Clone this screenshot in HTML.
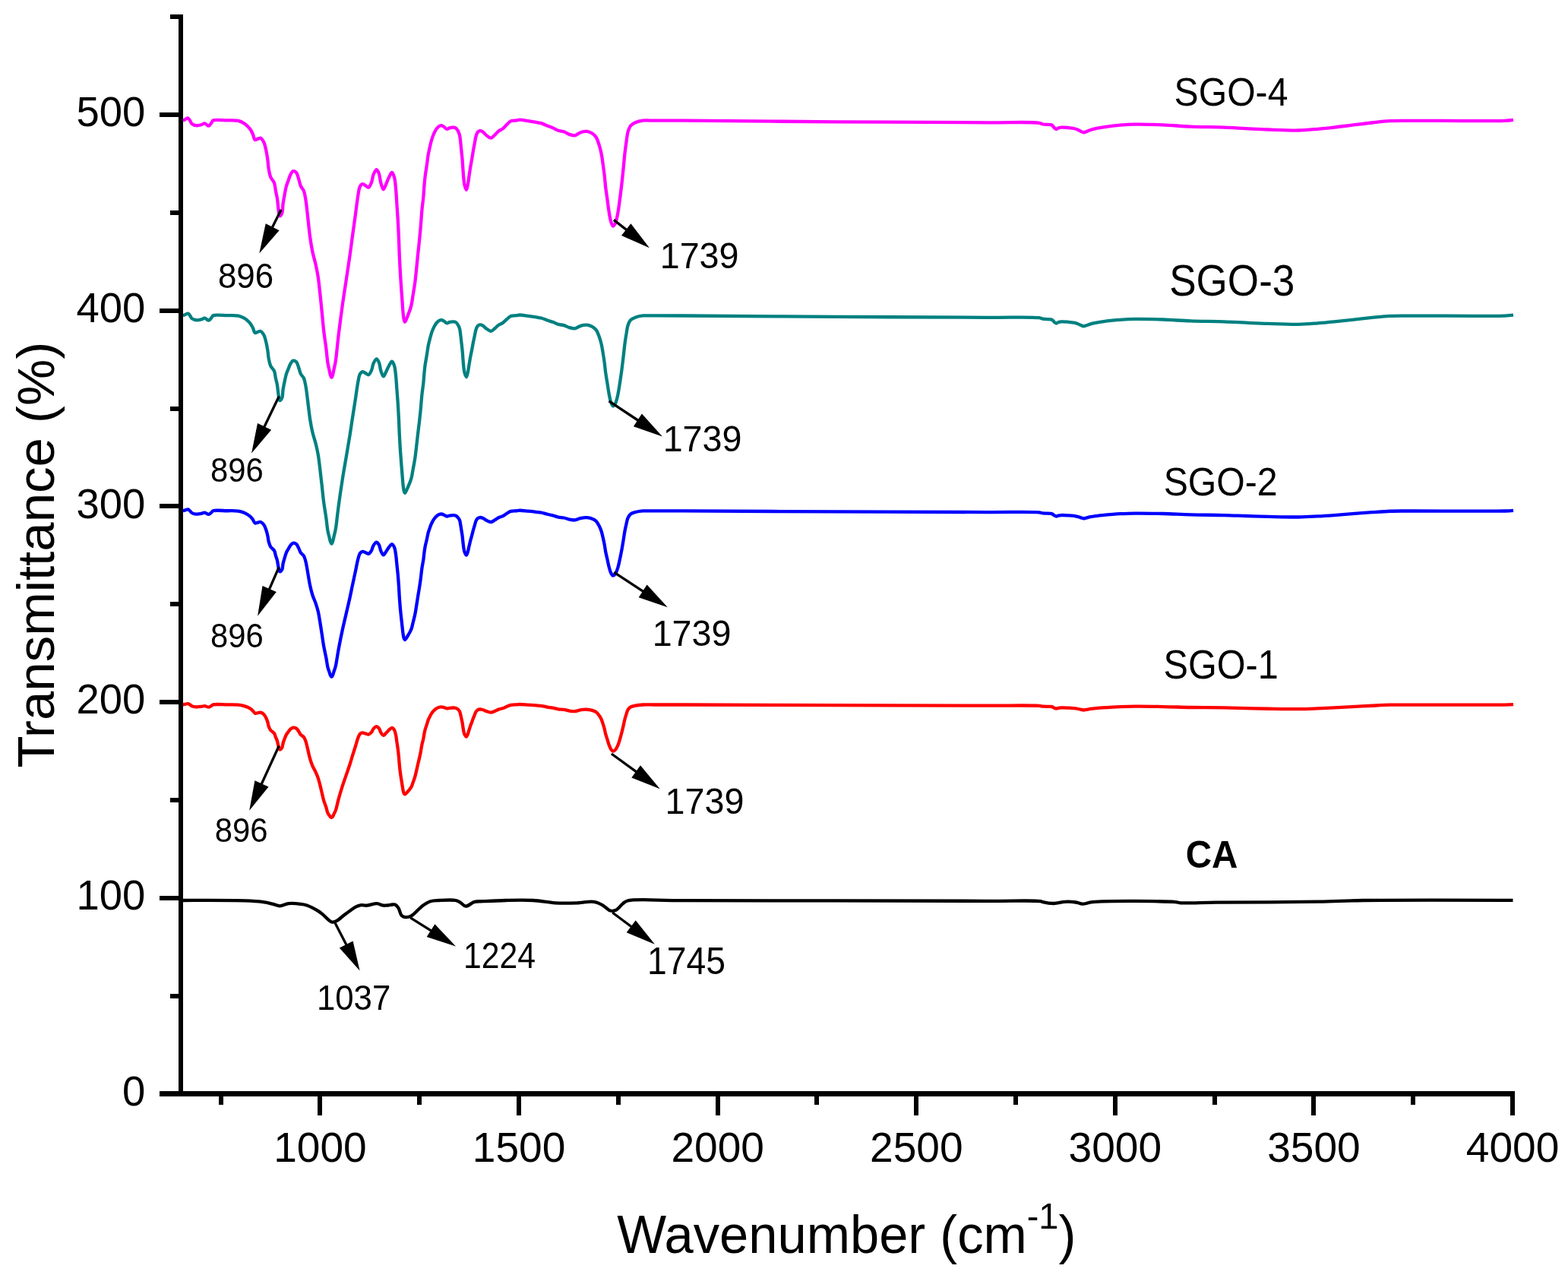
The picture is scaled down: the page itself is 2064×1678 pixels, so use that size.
<!DOCTYPE html><html><head><meta charset="utf-8"><title>FTIR spectra</title><style>html,body{margin:0;padding:0;background:#fff;overflow:hidden}svg{display:block}</style></head><body><svg width="2064" height="1678" viewBox="0 0 2064 1678"><rect x="0" y="0" width="2064" height="1678" fill="#fff"/><path d="M240.40,1185.00 C240.40,1185.00 304.49,1184.71 323.20,1185.40 C332.81,1185.75 338.50,1186.03 345.00,1186.90 C350.35,1187.62 355.28,1188.78 359.50,1189.80 C362.82,1190.60 365.16,1192.29 368.30,1192.30 C371.90,1192.31 375.68,1189.58 379.90,1189.10 C384.77,1188.55 391.62,1189.27 395.90,1189.80 C398.82,1190.16 400.37,1190.33 403.20,1191.30 C407.56,1192.80 415.17,1196.78 419.10,1199.20 C421.63,1200.76 422.74,1201.79 425.00,1203.60 C428.26,1206.20 433.20,1212.63 436.60,1213.50 C438.72,1214.04 440.26,1213.27 442.40,1212.30 C445.75,1210.79 449.88,1206.58 454.00,1203.60 C458.56,1200.30 464.73,1195.41 468.60,1193.40 C470.88,1192.22 472.23,1191.63 474.40,1191.30 C476.97,1190.91 479.92,1191.94 483.10,1191.70 C487.04,1191.40 492.30,1188.92 496.20,1189.10 C499.42,1189.25 501.76,1191.41 504.90,1191.70 C508.46,1192.03 513.76,1190.64 516.50,1190.50 C518.00,1190.42 518.86,1190.03 520.00,1190.50 C521.52,1191.13 523.10,1192.97 524.40,1194.90 C526.13,1197.47 526.70,1203.11 528.70,1205.10 C530.12,1206.50 531.89,1207.07 533.80,1207.20 C536.14,1207.36 538.94,1206.64 541.80,1205.10 C546.19,1202.73 551.72,1195.31 556.30,1192.00 C559.85,1189.43 562.86,1187.37 566.50,1186.20 C570.13,1185.04 573.62,1185.23 578.10,1185.00 C584.22,1184.68 595.00,1183.97 599.90,1185.00 C602.57,1185.56 603.79,1186.46 605.80,1187.60 C608.15,1188.93 610.24,1192.48 613.00,1192.70 C616.36,1192.96 620.70,1187.97 624.70,1186.90 C628.48,1185.89 631.56,1186.44 636.30,1186.20 C643.79,1185.82 655.08,1185.21 665.30,1185.00 C676.74,1184.76 690.26,1184.35 701.70,1185.00 C711.96,1185.58 721.09,1187.75 730.80,1188.30 C740.46,1188.85 750.83,1188.59 759.80,1188.30 C767.59,1188.05 775.54,1186.00 781.60,1186.90 C786.19,1187.58 789.66,1189.36 793.30,1191.30 C796.93,1193.23 800.15,1197.63 803.40,1198.50 C805.90,1199.17 808.30,1198.88 810.70,1197.80 C813.86,1196.37 817.13,1191.26 820.00,1189.10 C822.13,1187.50 822.69,1186.43 826.00,1185.50 C836.78,1182.49 865.50,1185.24 900.00,1185.20 C980.20,1185.10 1221.43,1185.57 1300.00,1185.80 C1332.82,1185.90 1361.96,1184.77 1369.80,1186.10 C1371.44,1186.38 1371.34,1186.78 1372.70,1187.10 C1375.67,1187.80 1382.37,1189.05 1387.20,1189.00 C1392.04,1188.95 1396.85,1187.05 1401.70,1186.80 C1406.55,1186.55 1412.09,1186.87 1416.30,1187.50 C1419.60,1187.99 1421.79,1189.62 1425.00,1189.70 C1428.91,1189.80 1431.57,1187.74 1438.10,1187.10 C1456.76,1185.27 1532.18,1185.88 1547.10,1187.10 C1550.99,1187.42 1550.91,1188.04 1554.40,1188.30 C1563.07,1188.95 1580.76,1187.90 1600.00,1187.70 C1633.20,1187.36 1699.92,1187.36 1735.70,1186.70 C1759.12,1186.27 1768.68,1185.38 1793.80,1185.00 C1840.13,1184.30 1991.50,1184.80 1991.50,1184.80" fill="none" stroke="#000000" stroke-width="4.3" stroke-linejoin="round" stroke-linecap="butt"/><path d="M240.80,927.36 C240.80,927.36 242.36,927.09 243.30,926.91 C244.54,926.68 246.34,925.85 247.60,926.06 C248.70,926.26 249.64,927.22 250.50,927.80 C251.24,928.30 251.60,928.92 252.50,929.31 C253.88,929.92 256.29,930.26 258.30,930.38 C260.45,930.51 263.01,930.19 265.00,929.94 C266.63,929.73 267.87,929.03 269.40,929.09 C271.12,929.16 273.19,930.77 274.80,930.60 C276.21,930.46 277.55,929.26 278.60,928.65 C279.39,928.19 279.53,927.67 280.60,927.36 C283.59,926.48 293.23,927.31 299.00,927.36 C304.12,927.39 309.43,927.15 313.50,927.58 C316.52,927.89 319.05,928.46 321.30,929.09 C323.09,929.59 324.52,930.16 326.00,930.83 C327.41,931.46 328.82,932.14 330.00,932.96 C331.10,933.73 331.96,934.60 332.90,935.54 C333.90,936.54 334.63,938.38 335.80,938.79 C336.92,939.18 338.44,938.31 339.70,938.12 C340.87,937.96 341.94,937.48 343.10,937.72 C344.50,938.02 346.22,939.13 347.40,940.30 C348.64,941.53 349.48,943.37 350.30,945.02 C351.12,946.68 351.74,948.45 352.30,950.25 C352.88,952.11 353.04,954.19 353.70,956.01 C354.35,957.78 355.04,959.55 356.20,961.04 C357.43,962.63 359.88,963.56 361.00,965.18 C362.05,966.69 362.24,968.64 362.90,970.32 C363.54,971.96 364.35,973.40 364.90,975.13 C365.51,977.02 365.71,979.29 366.30,981.24 C366.86,983.08 367.35,986.26 368.30,986.51 C369.08,986.71 370.50,985.23 371.20,984.09 C372.10,982.61 372.03,979.96 372.60,977.98 C373.16,976.03 373.87,974.17 374.60,972.29 C375.34,970.39 376.11,968.23 377.00,966.62 C377.74,965.29 378.54,964.34 379.40,963.21 C380.30,962.03 381.21,960.65 382.30,959.70 C383.32,958.82 384.45,957.85 385.70,957.65 C387.03,957.44 388.89,957.90 390.10,958.66 C391.33,959.44 392.07,961.00 393.00,962.32 C394.01,963.76 394.71,965.70 395.90,967.01 C397.03,968.27 398.84,968.75 399.90,970.08 C401.06,971.53 401.65,973.43 402.40,975.52 C403.34,978.15 403.96,981.33 404.80,984.72 C405.83,988.88 406.88,994.49 408.10,998.65 C409.12,1002.13 410.13,1005.10 411.40,1008.08 C412.61,1010.91 414.26,1013.47 415.50,1016.15 C416.69,1018.74 417.77,1021.17 418.70,1023.88 C419.68,1026.74 420.39,1029.77 421.20,1032.89 C422.06,1036.21 422.88,1039.80 423.70,1043.23 C424.51,1046.62 425.14,1050.06 426.10,1053.36 C427.04,1056.61 428.47,1059.93 429.40,1062.87 C430.19,1065.37 430.57,1068.06 431.40,1069.88 C431.99,1071.16 432.75,1072.00 433.40,1072.95 C433.98,1073.79 434.51,1074.79 435.10,1075.29 C435.52,1075.65 435.97,1075.97 436.40,1075.93 C436.87,1075.88 437.37,1075.36 437.80,1074.84 C438.41,1074.09 438.84,1072.74 439.40,1071.60 C440.03,1070.33 440.86,1068.83 441.40,1067.54 C441.86,1066.44 442.18,1065.44 442.50,1064.37 C442.82,1063.31 442.96,1062.52 443.30,1061.15 C443.90,1058.73 444.78,1054.85 445.80,1051.11 C447.12,1046.29 449.01,1039.96 450.70,1034.69 C452.29,1029.74 453.97,1025.13 455.60,1020.36 C457.23,1015.58 459.06,1010.48 460.50,1006.03 C461.74,1002.18 462.63,998.98 463.80,995.22 C465.08,991.08 466.62,986.37 467.90,982.23 C469.07,978.46 470.03,974.34 471.20,971.38 C472.06,969.21 472.70,967.06 473.90,965.92 C474.82,965.04 475.99,964.58 477.20,964.48 C478.59,964.38 480.40,965.30 481.80,965.68 C482.99,966.00 484.00,966.80 485.10,966.60 C486.41,966.36 487.93,964.92 489.00,963.70 C490.12,962.43 490.47,960.36 491.60,959.08 C492.69,957.85 494.34,956.15 495.60,956.15 C496.72,956.14 497.89,957.36 498.80,958.46 C499.96,959.87 500.41,962.70 501.50,964.34 C502.43,965.73 503.60,967.75 504.70,967.81 C505.76,967.86 506.88,965.99 508.00,964.91 C509.27,963.69 510.54,962.02 511.90,960.82 C513.18,959.70 514.67,957.82 515.90,957.88 C517.05,957.95 518.27,959.48 519.10,960.82 C520.17,962.55 520.56,965.33 521.10,967.81 C521.69,970.54 521.97,973.65 522.40,976.57 C522.83,979.48 523.29,982.17 523.70,985.29 C524.17,988.90 524.65,993.34 525.00,996.95 C525.30,1000.08 525.40,1002.59 525.70,1005.72 C526.05,1009.33 526.53,1013.77 527.00,1017.38 C527.41,1020.51 527.87,1023.35 528.30,1026.15 C528.70,1028.71 529.11,1031.13 529.50,1033.53 C529.87,1035.81 530.17,1038.31 530.60,1040.21 C530.93,1041.66 531.21,1043.06 531.70,1043.99 C532.04,1044.64 532.46,1045.40 532.90,1045.46 C533.33,1045.51 533.77,1044.91 534.30,1044.43 C535.16,1043.66 536.41,1042.17 537.40,1041.01 C538.37,1039.87 539.43,1038.64 540.20,1037.54 C540.85,1036.61 541.30,1035.91 541.80,1034.87 C542.43,1033.54 542.87,1031.93 543.50,1030.15 C544.32,1027.84 545.51,1024.86 546.30,1022.18 C547.07,1019.56 547.58,1016.91 548.20,1014.26 C548.82,1011.61 549.38,1008.95 550.00,1006.30 C550.62,1003.64 551.30,1000.99 551.90,998.33 C552.50,995.68 553.04,993.24 553.60,990.37 C554.25,987.02 554.81,982.70 555.50,979.46 C556.06,976.84 556.80,974.77 557.30,972.39 C557.80,970.02 558.07,967.43 558.50,965.23 C558.88,963.31 559.20,961.65 559.70,959.88 C560.20,958.10 560.97,956.23 561.50,954.59 C561.95,953.18 562.30,951.90 562.70,950.63 C563.07,949.43 563.34,948.32 563.80,947.16 C564.29,945.93 564.99,944.67 565.60,943.46 C566.19,942.29 566.77,941.05 567.40,939.99 C567.97,939.04 568.53,938.23 569.20,937.37 C569.92,936.46 570.72,935.53 571.60,934.70 C572.51,933.84 573.51,932.95 574.60,932.29 C575.70,931.63 577.04,931.06 578.20,930.74 C579.20,930.46 580.13,930.30 581.10,930.34 C582.10,930.38 583.02,930.70 584.10,931.00 C585.39,931.37 586.94,932.33 588.30,932.43 C589.53,932.52 590.61,931.92 591.90,931.76 C593.36,931.59 595.21,931.47 596.60,931.49 C597.71,931.51 598.63,931.47 599.60,931.76 C600.63,932.08 601.71,932.69 602.60,933.41 C603.52,934.15 604.41,935.08 605.00,936.17 C605.64,937.33 605.82,938.77 606.20,940.24 C606.63,941.92 607.00,943.87 607.40,945.70 C607.80,947.54 608.27,949.40 608.60,951.25 C608.93,953.08 609.12,954.92 609.40,956.76 C609.68,958.61 609.92,960.59 610.30,962.30 C610.64,963.83 610.87,965.33 611.50,966.58 C612.09,967.75 613.19,969.70 613.90,969.64 C614.59,969.59 615.16,967.67 615.70,966.41 C616.39,964.81 616.90,962.60 617.50,960.71 C618.10,958.83 618.67,956.91 619.30,955.11 C619.90,953.40 620.60,951.81 621.20,950.16 C621.79,948.54 622.29,946.91 622.90,945.33 C623.50,943.77 624.17,942.25 624.80,940.76 C625.40,939.33 625.85,937.70 626.60,936.57 C627.23,935.63 627.94,934.81 628.80,934.30 C629.64,933.80 630.67,933.57 631.70,933.50 C632.83,933.42 634.06,933.64 635.30,933.99 C636.72,934.38 638.06,935.33 639.70,935.90 C641.66,936.58 644.26,937.76 646.30,937.68 C648.09,937.61 649.64,936.56 651.30,935.90 C653.00,935.22 654.67,934.23 656.40,933.63 C658.08,933.05 659.77,932.94 661.50,932.34 C663.40,931.68 665.42,930.54 667.30,929.76 C669.04,929.04 670.47,928.21 672.40,927.80 C674.73,927.30 678.26,927.52 680.40,927.36 C681.84,927.24 682.47,927.03 684.00,927.00 C686.65,926.95 691.27,927.42 694.90,927.67 C698.53,927.91 702.53,928.20 705.80,928.47 C708.48,928.69 710.68,928.79 713.10,929.13 C715.54,929.48 717.97,930.12 720.40,930.55 C722.80,930.97 725.20,931.24 727.60,931.69 C730.03,932.15 732.45,932.91 734.90,933.28 C737.32,933.65 739.78,933.57 742.20,933.93 C744.64,934.31 747.06,935.15 749.50,935.51 C751.90,935.87 754.72,936.25 756.70,936.12 C758.11,936.02 759.02,935.61 760.30,935.32 C761.76,934.99 763.24,934.48 765.00,934.22 C767.18,933.90 769.97,933.62 772.40,933.74 C774.80,933.85 777.36,934.26 779.50,934.88 C781.38,935.43 783.11,936.00 784.60,937.08 C786.16,938.20 787.42,939.94 788.60,941.57 C789.79,943.21 790.85,945.04 791.70,946.89 C792.55,948.75 793.05,950.69 793.70,952.70 C794.39,954.84 795.11,957.15 795.70,959.39 C796.28,961.61 796.60,963.86 797.20,966.08 C797.80,968.32 798.57,970.43 799.30,972.76 C800.10,975.31 800.88,978.40 801.80,980.77 C802.57,982.77 803.31,984.76 804.30,986.14 C805.07,987.21 805.95,988.47 806.90,988.60 C807.82,988.73 809.00,987.88 809.90,987.02 C811.11,985.86 812.07,983.75 813.00,981.70 C814.15,979.15 815.08,975.75 816.00,972.76 C816.91,969.80 817.73,966.81 818.50,963.83 C819.26,960.87 819.92,957.91 820.60,954.94 C821.28,951.97 821.88,948.76 822.60,946.01 C823.23,943.61 823.90,941.42 824.60,939.32 C825.24,937.43 825.62,935.47 826.60,933.96 C827.52,932.53 828.71,931.27 830.20,930.39 C831.87,929.41 833.99,929.09 836.30,928.63 C839.22,928.05 842.68,927.70 846.40,927.49 C850.94,927.23 855.38,927.49 861.60,927.49 C871.49,927.49 882.20,927.46 900.00,927.49 C940.62,927.56 1033.33,928.01 1100.00,928.20 C1166.67,928.39 1250.94,928.51 1300.00,928.65 C1328.57,928.72 1358.24,928.12 1367.80,928.87 C1370.39,929.07 1370.75,929.45 1372.70,929.62 C1375.55,929.89 1381.17,929.67 1383.30,929.94 C1384.24,930.05 1384.59,930.12 1385.30,930.38 C1386.20,930.71 1387.26,931.53 1388.20,931.89 C1389.02,932.21 1389.80,932.52 1390.60,932.52 C1391.40,932.52 1392.10,932.06 1393.00,931.89 C1394.14,931.68 1395.31,931.52 1396.90,931.45 C1399.41,931.34 1403.65,931.55 1406.60,931.67 C1409.07,931.77 1411.33,931.87 1413.40,932.07 C1415.14,932.24 1416.69,932.46 1418.20,932.74 C1419.57,932.99 1420.76,933.35 1422.10,933.63 C1423.52,933.93 1425.14,934.46 1426.50,934.48 C1427.68,934.49 1428.54,934.15 1429.80,933.94 C1431.48,933.67 1433.83,933.24 1435.70,932.96 C1437.38,932.71 1438.58,932.54 1440.50,932.34 C1443.36,932.04 1447.42,931.72 1451.20,931.45 C1455.44,931.14 1460.57,930.83 1464.70,930.60 C1468.20,930.41 1470.61,930.29 1474.40,930.16 C1479.76,929.97 1486.29,929.77 1493.80,929.71 C1504.18,929.64 1518.60,929.81 1530.90,930.03 C1543.07,930.24 1554.55,930.77 1567.20,931.00 C1581.07,931.26 1597.73,931.23 1610.80,931.45 C1621.48,931.63 1630.20,931.90 1639.90,932.12 C1649.60,932.33 1658.49,932.57 1669.00,932.74 C1681.43,932.94 1697.82,933.30 1709.70,933.18 C1718.96,933.09 1726.42,932.73 1734.40,932.43 C1741.89,932.15 1748.77,931.82 1756.20,931.45 C1763.96,931.06 1771.85,930.60 1780.00,930.16 C1788.60,929.69 1797.95,929.15 1806.50,928.74 C1814.52,928.34 1822.04,927.91 1829.80,927.71 C1837.54,927.51 1842.15,927.58 1853.00,927.53 C1878.48,927.44 1961.66,927.92 1981.00,927.53 C1986.67,927.42 1992.00,927.09 1992.00,927.09" fill="none" stroke="#ff0000" stroke-width="4.3" stroke-linejoin="round" stroke-linecap="butt"/><path d="M240.80,672.24 C240.80,672.24 242.36,671.85 243.30,671.60 C244.54,671.27 246.37,670.12 247.60,670.39 C248.74,670.65 249.64,672.05 250.50,672.87 C251.25,673.59 251.55,674.46 252.50,675.03 C253.86,675.84 256.28,676.39 258.30,676.55 C260.44,676.73 263.01,676.28 265.00,675.92 C266.63,675.62 267.87,674.63 269.40,674.71 C271.12,674.81 273.21,677.08 274.80,676.87 C276.23,676.69 277.55,674.94 278.60,674.08 C279.39,673.42 279.46,672.68 280.60,672.24 C283.56,671.08 293.23,672.17 299.00,672.24 C304.12,672.29 309.44,671.96 313.50,672.55 C316.53,673.00 319.07,673.83 321.30,674.71 C323.11,675.43 324.53,676.25 326.00,677.19 C327.43,678.10 328.84,679.09 330.00,680.24 C331.12,681.34 331.97,682.60 332.90,683.92 C333.91,685.35 334.54,688.04 335.80,688.56 C336.88,689.00 338.44,687.86 339.70,687.60 C340.87,687.36 341.97,686.72 343.10,687.03 C344.54,687.43 346.24,689.14 347.40,690.71 C348.72,692.51 349.49,695.12 350.30,697.45 C351.13,699.83 351.74,702.34 352.30,704.88 C352.88,707.48 353.02,710.35 353.70,712.88 C354.34,715.25 354.96,717.65 356.20,719.61 C357.41,721.53 359.88,722.62 361.00,724.56 C362.12,726.51 362.24,729.10 362.90,731.29 C363.54,733.40 364.35,735.24 364.90,737.45 C365.51,739.92 365.71,742.91 366.30,745.45 C366.86,747.83 367.26,751.94 368.30,752.25 C369.06,752.47 370.50,751.00 371.20,749.77 C372.23,747.97 372.02,744.37 372.60,741.77 C373.16,739.25 373.87,736.85 374.60,734.40 C375.34,731.94 376.09,729.13 377.00,727.04 C377.73,725.37 378.55,724.20 379.40,722.72 C380.31,721.13 381.17,719.17 382.30,717.80 C383.31,716.58 384.40,715.08 385.70,714.79 C387.00,714.50 388.92,715.14 390.10,716.06 C391.43,717.10 392.08,719.27 393.00,721.07 C394.02,723.06 394.66,725.69 395.90,727.50 C397.01,729.13 398.85,729.88 399.90,731.59 C401.12,733.59 401.66,736.17 402.40,738.99 C403.35,742.60 403.96,746.95 404.80,751.58 C405.83,757.26 406.87,764.89 408.10,770.56 C409.11,775.23 410.11,779.22 411.40,783.22 C412.60,786.97 414.28,790.31 415.50,793.89 C416.71,797.42 417.79,800.74 418.70,804.55 C419.73,808.82 420.39,813.58 421.20,818.35 C422.06,823.46 422.88,828.98 423.70,834.29 C424.52,839.59 425.16,844.89 426.10,850.19 C427.05,855.54 428.47,861.29 429.40,866.23 C430.19,870.43 430.60,874.69 431.40,877.96 C431.99,880.37 432.75,882.20 433.40,884.15 C433.98,885.90 434.47,887.91 435.10,889.10 C435.51,889.87 435.95,890.82 436.40,890.83 C436.85,890.83 437.38,889.87 437.80,889.10 C438.44,887.92 438.84,885.92 439.40,884.19 C440.03,882.26 440.86,879.98 441.40,878.05 C441.87,876.38 442.18,874.90 442.50,873.30 C442.82,871.71 442.96,870.54 443.30,868.50 C443.90,864.90 444.77,859.16 445.80,853.58 C447.12,846.44 449.01,837.04 450.70,829.20 C452.28,821.87 453.96,815.03 455.60,807.95 C457.23,800.89 459.06,793.36 460.50,786.80 C461.74,781.14 462.63,776.45 463.80,770.92 C465.08,764.87 466.62,757.95 467.90,751.90 C469.07,746.38 470.01,740.42 471.20,736.06 C472.06,732.92 472.58,729.77 473.90,728.07 C474.80,726.91 475.97,726.07 477.20,725.92 C478.57,725.76 480.40,727.03 481.80,727.55 C482.99,727.98 484.04,729.05 485.10,728.80 C486.46,728.47 487.95,726.23 489.00,724.53 C490.17,722.65 490.41,719.74 491.60,717.87 C492.67,716.18 494.34,713.65 495.60,713.64 C496.72,713.64 497.91,715.48 498.80,716.97 C500.04,719.05 500.38,723.03 501.50,725.42 C502.42,727.37 503.58,730.36 504.70,730.41 C505.76,730.47 506.89,727.79 508.00,726.25 C509.28,724.48 510.51,722.11 511.90,720.36 C513.16,718.78 514.68,716.07 515.90,716.14 C517.07,716.20 518.28,718.54 519.10,720.36 C520.24,722.90 520.56,726.86 521.10,730.41 C521.70,734.36 521.97,738.82 522.40,743.02 C522.83,747.21 523.29,751.08 523.70,755.56 C524.17,760.75 524.65,767.14 525.00,772.33 C525.30,776.83 525.40,780.44 525.70,784.94 C526.05,790.13 526.53,796.52 527.00,801.71 C527.41,806.21 527.87,810.29 528.30,814.32 C528.70,818.01 529.11,821.49 529.50,824.94 C529.87,828.22 530.17,831.80 530.60,834.54 C530.93,836.62 531.19,838.62 531.70,839.98 C532.04,840.88 532.44,842.04 532.90,842.09 C533.32,842.14 533.78,841.28 534.30,840.61 C535.18,839.47 536.41,837.33 537.40,835.66 C538.38,834.00 539.43,832.23 540.20,830.65 C540.85,829.30 541.31,828.28 541.80,826.80 C542.44,824.87 542.87,822.56 543.50,820.00 C544.32,816.68 545.51,812.37 546.30,808.54 C547.08,804.74 547.58,800.94 548.20,797.14 C548.82,793.33 549.38,789.50 550.00,785.68 C550.62,781.86 551.30,778.05 551.90,774.23 C552.50,770.41 553.04,766.89 553.60,762.77 C554.25,757.96 554.81,751.75 555.50,747.10 C556.06,743.34 556.80,740.34 557.30,736.93 C557.80,733.52 558.07,729.81 558.50,726.64 C558.88,723.89 559.20,721.50 559.70,718.96 C560.20,716.41 560.97,713.71 561.50,711.35 C561.95,709.32 562.30,707.49 562.70,705.66 C563.07,703.94 563.33,702.35 563.80,700.68 C564.29,698.92 564.99,697.11 565.60,695.37 C566.19,693.68 566.76,691.91 567.40,690.38 C567.97,689.02 568.52,687.85 569.20,686.61 C569.91,685.32 570.70,683.99 571.60,682.78 C572.50,681.56 573.47,680.29 574.60,679.33 C575.68,678.40 577.02,677.55 578.20,677.09 C579.18,676.70 580.13,676.46 581.10,676.51 C582.10,676.57 583.03,677.04 584.10,677.47 C585.40,677.99 586.93,679.38 588.30,679.51 C589.52,679.63 590.61,678.78 591.90,678.55 C593.35,678.30 595.21,678.14 596.60,678.17 C597.71,678.20 598.65,678.16 599.60,678.55 C600.66,678.99 601.73,679.89 602.60,680.85 C603.55,681.89 604.41,683.21 605.00,684.67 C605.67,686.33 605.82,688.32 606.20,690.35 C606.63,692.69 607.00,695.40 607.40,697.94 C607.80,700.48 608.27,703.04 608.60,705.59 C608.93,708.12 609.12,710.65 609.40,713.18 C609.68,715.71 609.92,718.42 610.30,720.76 C610.64,722.82 610.84,724.79 611.50,726.50 C612.09,728.04 613.19,730.68 613.90,730.64 C614.59,730.60 615.16,728.11 615.70,726.49 C616.41,724.35 616.90,721.38 617.50,718.84 C618.10,716.30 618.67,713.70 619.30,711.25 C619.90,708.92 620.60,706.74 621.20,704.49 C621.80,702.25 622.29,699.99 622.90,697.79 C623.50,695.64 624.17,693.51 624.80,691.42 C625.41,689.39 625.82,687.07 626.60,685.43 C627.22,684.12 627.88,682.91 628.80,682.18 C629.62,681.52 630.67,681.12 631.70,681.03 C632.82,680.92 634.08,681.25 635.30,681.73 C636.74,682.29 638.04,683.64 639.70,684.46 C641.64,685.43 644.27,687.11 646.30,687.01 C648.10,686.91 649.65,685.40 651.30,684.46 C653.02,683.48 654.65,682.07 656.40,681.21 C658.06,680.39 659.79,680.20 661.50,679.36 C663.42,678.42 665.41,676.79 667.30,675.67 C669.04,674.64 670.44,673.46 672.40,672.87 C674.70,672.18 678.26,672.47 680.40,672.24 C681.84,672.08 682.47,671.77 684.00,671.73 C686.65,671.66 691.27,672.33 694.90,672.68 C698.53,673.03 702.53,673.44 705.80,673.82 C708.48,674.13 710.68,674.27 713.10,674.76 C715.55,675.25 717.97,676.15 720.40,676.76 C722.80,677.35 725.20,677.74 727.60,678.37 C730.04,679.01 732.44,680.06 734.90,680.58 C737.31,681.09 739.79,680.97 742.20,681.48 C744.66,681.99 747.05,683.16 749.50,683.67 C751.89,684.15 754.73,684.67 756.70,684.48 C758.12,684.34 759.02,683.76 760.30,683.35 C761.76,682.88 763.23,682.18 765.00,681.82 C767.17,681.37 769.97,680.98 772.40,681.14 C774.80,681.30 777.39,681.89 779.50,682.74 C781.41,683.50 783.14,684.39 784.60,685.81 C786.23,687.40 787.43,689.84 788.60,692.07 C789.81,694.39 790.85,696.94 791.70,699.50 C792.56,702.11 793.05,704.80 793.70,707.60 C794.39,710.60 795.12,713.82 795.70,716.94 C796.28,720.04 796.60,723.17 797.20,726.27 C797.80,729.39 798.57,732.35 799.30,735.60 C800.10,739.16 800.87,743.45 801.80,746.78 C802.57,749.55 803.27,752.32 804.30,754.27 C805.06,755.71 805.93,757.57 806.90,757.71 C807.81,757.84 809.02,756.62 809.90,755.50 C811.19,753.85 812.07,750.90 813.00,748.07 C814.17,744.49 815.08,739.77 816.00,735.60 C816.91,731.46 817.73,727.29 818.50,723.14 C819.26,719.01 819.92,714.88 820.60,710.74 C821.28,706.59 821.88,702.12 822.60,698.27 C823.23,694.93 823.89,691.87 824.60,688.94 C825.24,686.30 825.57,683.61 826.60,681.45 C827.51,679.53 828.62,677.71 830.20,676.48 C831.83,675.20 833.97,674.66 836.30,674.02 C839.21,673.22 842.68,672.72 846.40,672.42 C850.94,672.07 855.38,672.42 861.60,672.42 C871.49,672.42 882.20,672.38 900.00,672.43 C940.62,672.53 1033.33,673.16 1100.00,673.43 C1166.67,673.71 1250.94,673.87 1300.00,674.06 C1328.57,674.18 1358.25,673.32 1367.80,674.38 C1370.40,674.67 1370.74,675.20 1372.70,675.45 C1375.55,675.82 1381.17,675.52 1383.30,675.89 C1384.24,676.06 1384.60,676.17 1385.30,676.52 C1386.21,676.99 1387.24,678.15 1388.20,678.66 C1389.01,679.10 1389.80,679.54 1390.60,679.54 C1391.40,679.54 1392.09,678.90 1393.00,678.66 C1394.13,678.37 1395.30,678.14 1396.90,678.03 C1399.40,677.87 1403.66,678.18 1406.60,678.35 C1409.07,678.49 1411.34,678.63 1413.40,678.91 C1415.15,679.16 1416.69,679.47 1418.20,679.86 C1419.58,680.22 1420.76,680.72 1422.10,681.12 C1423.52,681.54 1425.14,682.29 1426.50,682.32 C1427.68,682.34 1428.54,681.85 1429.80,681.56 C1431.48,681.17 1433.83,680.57 1435.70,680.17 C1437.38,679.82 1438.58,679.58 1440.50,679.29 C1443.36,678.86 1447.42,678.42 1451.20,678.03 C1455.44,677.60 1460.57,677.15 1464.70,676.84 C1468.20,676.57 1470.61,676.39 1474.40,676.21 C1479.76,675.95 1486.29,675.65 1493.80,675.58 C1504.18,675.47 1518.60,675.71 1530.90,676.02 C1543.07,676.32 1554.54,677.07 1567.20,677.40 C1581.07,677.77 1597.73,677.73 1610.80,678.03 C1621.48,678.28 1630.20,678.67 1639.90,678.98 C1649.60,679.28 1658.49,679.62 1669.00,679.86 C1681.43,680.14 1697.82,680.66 1709.70,680.49 C1718.96,680.36 1726.43,679.85 1734.40,679.42 C1741.90,679.02 1748.78,678.55 1756.20,678.03 C1763.96,677.49 1771.85,676.83 1780.00,676.21 C1788.60,675.55 1797.95,674.78 1806.50,674.19 C1814.51,673.64 1822.04,673.02 1829.80,672.74 C1837.54,672.46 1842.15,672.55 1853.00,672.49 C1878.48,672.35 1961.66,673.04 1981.00,672.49 C1986.67,672.33 1992.00,671.86 1992.00,671.86" fill="none" stroke="#0000ff" stroke-width="4.3" stroke-linejoin="round" stroke-linecap="butt"/><path d="M240.80,415.21 C240.80,415.21 242.36,414.67 243.30,414.32 C244.54,413.86 246.40,412.32 247.60,412.63 C248.79,412.93 249.65,414.96 250.50,416.10 C251.26,417.12 251.48,418.32 252.50,419.13 C253.83,420.18 256.27,421.04 258.30,421.26 C260.43,421.50 263.03,420.87 265.00,420.37 C266.65,419.95 267.88,418.57 269.40,418.68 C271.14,418.81 273.23,421.93 274.80,421.71 C276.27,421.49 277.56,418.99 278.60,417.79 C279.40,416.87 279.37,415.82 280.60,415.21 C283.53,413.77 293.23,415.12 299.00,415.21 C304.12,415.29 309.47,414.84 313.50,415.66 C316.56,416.28 319.09,417.47 321.30,418.68 C323.14,419.69 324.55,420.86 326.00,422.15 C327.45,423.44 328.85,424.85 330.00,426.41 C331.15,427.99 331.97,429.73 332.90,431.57 C333.92,433.59 334.41,437.46 335.80,438.06 C336.86,438.52 338.44,437.09 339.70,436.72 C340.86,436.39 342.01,435.56 343.10,435.92 C344.61,436.43 346.25,438.97 347.40,441.08 C348.79,443.64 349.49,447.26 350.30,450.50 C351.14,453.86 351.74,457.36 352.30,460.90 C352.88,464.55 353.01,468.55 353.70,472.10 C354.34,475.40 354.91,478.72 356.20,481.52 C357.40,484.12 359.89,485.83 361.00,488.45 C362.19,491.24 362.24,494.80 362.90,497.86 C363.54,500.81 364.35,503.41 364.90,506.48 C365.52,509.96 365.70,514.11 366.30,517.68 C366.85,520.99 367.19,526.91 368.30,527.19 C369.06,527.38 370.49,525.34 371.20,523.72 C372.32,521.15 372.02,516.16 372.60,512.52 C373.16,509.00 373.87,505.64 374.60,502.21 C375.33,498.76 376.08,494.85 377.00,491.90 C377.72,489.58 378.55,487.93 379.40,485.85 C380.31,483.62 381.14,480.88 382.30,478.92 C383.29,477.25 384.34,475.02 385.70,474.65 C386.97,474.31 388.94,475.22 390.10,476.34 C391.56,477.75 392.08,480.79 393.00,483.27 C394.03,486.02 394.62,489.61 395.90,492.15 C397.00,494.32 398.86,495.48 399.90,497.74 C401.18,500.54 401.66,504.08 402.40,507.95 C403.36,512.97 403.96,518.97 404.80,525.36 C405.83,533.20 406.87,543.74 408.10,551.56 C409.11,557.97 410.10,563.45 411.40,568.97 C412.60,574.06 414.28,578.66 415.50,583.53 C416.71,588.36 417.79,592.90 418.70,598.09 C419.73,603.96 420.39,610.46 421.20,617.00 C422.07,624.01 422.88,631.57 423.70,638.84 C424.52,646.10 425.15,653.35 426.10,660.59 C427.05,667.88 428.47,675.71 429.40,682.43 C430.19,688.17 430.59,693.96 431.40,698.41 C431.99,701.66 432.75,704.13 433.40,706.75 C433.98,709.10 434.45,711.79 435.10,713.40 C435.50,714.40 435.95,715.69 436.40,715.70 C436.85,715.70 437.38,714.38 437.80,713.35 C438.46,711.73 438.84,709.01 439.40,706.65 C440.03,704.01 440.87,700.88 441.40,698.25 C441.87,695.95 442.18,693.92 442.50,691.75 C442.82,689.56 442.96,687.96 443.30,685.16 C443.90,680.22 444.77,672.34 445.80,664.69 C447.12,654.89 449.01,641.99 450.70,631.23 C452.28,621.17 453.97,611.78 455.60,602.06 C457.23,592.37 459.06,582.01 460.50,573.00 C461.75,565.21 462.63,558.77 463.80,551.17 C465.08,542.84 466.62,533.32 467.90,525.00 C469.07,517.40 470.01,509.20 471.20,503.19 C472.05,498.88 472.47,494.57 473.90,492.20 C474.79,490.71 475.94,489.42 477.20,489.25 C478.55,489.07 480.40,490.80 481.80,491.52 C483.00,492.13 484.06,493.53 485.10,493.26 C486.52,492.90 487.96,489.67 489.00,487.40 C490.22,484.76 490.37,480.84 491.60,478.20 C492.66,475.93 494.34,472.35 495.60,472.35 C496.72,472.34 497.92,474.94 498.80,476.92 C500.09,479.82 500.36,485.24 501.50,488.56 C502.41,491.20 503.58,495.37 504.70,495.42 C505.75,495.46 506.89,491.77 508.00,489.66 C509.29,487.20 510.49,483.96 511.90,481.52 C513.15,479.36 514.68,475.62 515.90,475.68 C517.08,475.73 518.28,479.04 519.10,481.47 C520.29,485.01 520.56,490.42 521.10,495.29 C521.70,500.74 521.97,506.86 522.40,512.64 C522.83,518.39 523.29,523.72 523.70,529.89 C524.17,537.02 524.65,545.81 525.00,552.95 C525.30,559.14 525.40,564.10 525.70,570.29 C526.05,577.42 526.53,586.20 527.00,593.34 C527.41,599.52 527.87,605.13 528.30,610.66 C528.70,615.73 529.11,620.51 529.50,625.25 C529.87,629.75 530.17,634.66 530.60,638.43 C530.93,641.27 531.18,644.01 531.70,645.89 C532.04,647.10 532.43,648.72 532.90,648.77 C533.31,648.81 533.79,647.66 534.30,646.76 C535.19,645.20 536.42,642.29 537.40,640.03 C538.38,637.77 539.44,635.35 540.20,633.21 C540.86,631.36 541.31,629.97 541.80,627.95 C542.44,625.30 542.87,622.15 543.50,618.64 C544.32,614.08 545.52,608.16 546.30,602.91 C547.08,597.70 547.58,592.48 548.20,587.25 C548.82,582.01 549.38,576.75 550.00,571.50 C550.62,566.25 551.30,561.01 551.90,555.75 C552.50,550.50 553.04,545.66 553.60,539.99 C554.25,533.37 554.81,524.83 555.50,518.42 C556.06,513.24 556.80,509.10 557.30,504.42 C557.80,499.71 558.07,494.61 558.50,490.23 C558.87,486.44 559.20,483.17 559.70,479.66 C560.20,476.15 560.97,472.42 561.50,469.17 C561.95,466.37 562.30,463.86 562.70,461.33 C563.07,458.96 563.33,456.77 563.80,454.45 C564.29,452.04 564.99,449.54 565.60,447.14 C566.19,444.81 566.76,442.38 567.40,440.26 C567.97,438.40 568.51,436.79 569.20,435.06 C569.91,433.29 570.69,431.46 571.60,429.77 C572.49,428.11 573.44,426.35 574.60,425.01 C575.66,423.77 576.99,422.56 578.20,421.92 C579.16,421.41 580.14,421.06 581.10,421.13 C582.10,421.20 583.04,421.87 584.10,422.45 C585.41,423.18 586.91,425.11 588.30,425.28 C589.51,425.43 590.60,424.27 591.90,423.96 C593.34,423.62 595.21,423.39 596.60,423.43 C597.71,423.47 598.68,423.46 599.60,423.96 C600.71,424.56 601.74,425.87 602.60,427.15 C603.59,428.63 604.41,430.47 605.00,432.46 C605.69,434.78 605.82,437.51 606.20,440.33 C606.63,443.58 607.00,447.34 607.40,450.86 C607.80,454.39 608.27,457.94 608.60,461.47 C608.93,464.99 609.12,468.49 609.40,472.00 C609.68,475.51 609.92,479.27 610.30,482.53 C610.64,485.38 610.83,488.10 611.50,490.50 C612.09,492.62 613.20,496.30 613.90,496.26 C614.59,496.23 615.16,492.75 615.70,490.52 C616.42,487.54 616.90,483.44 617.50,479.91 C618.10,476.39 618.66,472.79 619.30,469.38 C619.90,466.16 620.60,463.13 621.20,460.01 C621.80,456.91 622.29,453.77 622.90,450.72 C623.49,447.72 624.17,444.77 624.80,441.86 C625.41,439.05 625.80,435.86 626.60,433.54 C627.21,431.77 627.81,430.06 628.80,429.03 C629.60,428.19 630.65,427.56 631.70,427.44 C632.81,427.30 634.11,427.78 635.30,428.41 C636.78,429.21 638.01,431.06 639.70,432.23 C641.62,433.55 644.29,435.91 646.30,435.78 C648.12,435.67 649.66,433.54 651.30,432.24 C653.03,430.87 654.62,428.93 656.40,427.72 C658.03,426.62 659.82,426.29 661.50,425.15 C663.46,423.82 665.40,421.57 667.30,420.01 C669.03,418.58 670.38,416.91 672.40,416.10 C674.66,415.19 678.26,415.54 680.40,415.21 C681.84,414.99 682.47,414.56 684.00,414.50 C686.65,414.40 691.27,415.35 694.90,415.83 C698.54,416.32 702.53,416.90 705.80,417.43 C708.48,417.87 710.70,418.07 713.10,418.74 C715.57,419.43 717.96,420.69 720.40,421.54 C722.80,422.37 725.21,422.91 727.60,423.78 C730.05,424.68 732.42,426.15 734.90,426.87 C737.29,427.57 739.81,427.42 742.20,428.12 C744.67,428.83 747.03,430.46 749.50,431.16 C751.87,431.83 754.74,432.54 756.70,432.29 C758.14,432.10 759.02,431.28 760.30,430.71 C761.76,430.05 763.21,429.08 765.00,428.57 C767.15,427.96 769.98,427.41 772.40,427.63 C774.82,427.84 777.43,428.72 779.50,429.85 C781.46,430.93 783.17,432.25 784.60,434.13 C786.32,436.39 787.44,439.79 788.60,442.86 C789.83,446.13 790.86,449.67 791.70,453.22 C792.57,456.88 793.05,460.62 793.70,464.52 C794.39,468.70 795.12,473.19 795.70,477.53 C796.28,481.86 796.60,486.21 797.20,490.54 C797.80,494.89 798.57,499.02 799.30,503.55 C800.10,508.51 800.87,514.47 801.80,519.13 C802.57,522.98 803.24,526.82 804.30,529.58 C805.05,531.54 805.90,534.23 806.90,534.37 C807.79,534.49 809.03,532.76 809.90,531.29 C811.27,528.95 812.08,524.86 813.00,520.93 C814.18,515.91 815.08,509.35 816.00,503.55 C816.92,497.77 817.73,491.97 818.50,486.18 C819.26,480.41 819.92,474.66 820.60,468.89 C821.28,463.10 821.88,456.88 822.60,451.51 C823.23,446.85 823.89,442.59 824.60,438.50 C825.23,434.82 825.54,431.11 826.60,428.05 C827.51,425.43 828.51,422.86 830.20,421.12 C831.80,419.47 833.93,418.60 836.30,417.70 C839.18,416.60 842.67,415.88 846.40,415.47 C850.93,414.98 855.38,415.47 861.60,415.47 C871.49,415.47 882.20,415.41 900.00,415.48 C940.62,415.62 1033.33,416.51 1100.00,416.89 C1166.67,417.28 1250.94,417.51 1300.00,417.78 C1328.57,417.93 1358.27,416.76 1367.80,418.22 C1370.42,418.62 1370.73,419.37 1372.70,419.73 C1375.54,420.24 1381.19,419.83 1383.30,420.34 C1384.26,420.58 1384.62,420.75 1385.30,421.23 C1386.24,421.89 1387.22,423.51 1388.20,424.24 C1388.99,424.83 1389.80,425.48 1390.60,425.48 C1391.40,425.48 1392.08,424.57 1393.00,424.24 C1394.12,423.83 1395.30,423.50 1396.90,423.35 C1399.40,423.13 1403.66,423.56 1406.60,423.80 C1409.07,424.00 1411.34,424.19 1413.40,424.59 C1415.15,424.94 1416.70,425.38 1418.20,425.92 C1419.59,426.42 1420.75,427.13 1422.10,427.69 C1423.51,428.28 1425.13,429.33 1426.50,429.37 C1427.67,429.40 1428.54,428.72 1429.80,428.31 C1431.48,427.76 1433.83,426.91 1435.70,426.36 C1437.37,425.87 1438.57,425.53 1440.50,425.12 C1443.35,424.52 1447.42,423.90 1451.20,423.35 C1455.43,422.74 1460.57,422.12 1464.70,421.67 C1468.20,421.29 1470.61,421.05 1474.40,420.79 C1479.75,420.42 1486.29,420.01 1493.80,419.90 C1504.18,419.75 1518.60,420.09 1530.90,420.52 C1543.07,420.95 1554.54,422.00 1567.20,422.47 C1581.06,422.98 1597.73,422.92 1610.80,423.35 C1621.48,423.71 1630.20,424.25 1639.90,424.68 C1649.60,425.11 1658.49,425.58 1669.00,425.92 C1681.43,426.32 1697.82,427.04 1709.70,426.81 C1718.96,426.62 1726.43,425.90 1734.40,425.30 C1741.90,424.74 1748.78,424.09 1756.20,423.35 C1763.96,422.59 1771.85,421.66 1780.00,420.79 C1788.60,419.86 1797.95,418.79 1806.50,417.95 C1814.51,417.18 1822.03,416.32 1829.80,415.92 C1837.53,415.52 1842.15,415.65 1853.00,415.57 C1878.48,415.37 1961.66,416.34 1981.00,415.57 C1986.68,415.34 1992.00,414.68 1992.00,414.68" fill="none" stroke="#008080" stroke-width="4.3" stroke-linejoin="round" stroke-linecap="butt"/><path d="M240.80,158.40 C240.80,158.40 242.36,157.80 243.30,157.40 C244.54,156.88 246.41,155.19 247.60,155.50 C248.81,155.82 249.65,158.12 250.50,159.40 C251.26,160.55 251.45,161.89 252.50,162.80 C253.82,163.95 256.26,164.95 258.30,165.20 C260.42,165.46 263.03,164.76 265.00,164.20 C266.65,163.73 267.89,162.18 269.40,162.30 C271.14,162.43 273.24,165.93 274.80,165.70 C276.29,165.48 277.56,162.64 278.60,161.30 C279.41,160.26 279.32,159.07 280.60,158.40 C283.53,156.86 293.23,158.30 299.00,158.40 C304.12,158.49 309.48,157.99 313.50,158.90 C316.58,159.60 319.11,160.95 321.30,162.30 C323.16,163.44 324.56,164.76 326.00,166.20 C327.46,167.66 328.86,169.25 330.00,171.00 C331.16,172.78 331.98,174.73 332.90,176.80 C333.92,179.07 334.36,183.47 335.80,184.10 C336.85,184.56 338.43,183.01 339.70,182.60 C340.86,182.22 342.02,181.32 343.10,181.70 C344.65,182.24 346.26,185.15 347.40,187.50 C348.81,190.40 349.49,194.46 350.30,198.10 C351.14,201.88 351.74,205.82 352.30,209.80 C352.88,213.91 353.01,218.40 353.70,222.40 C354.34,226.11 354.89,229.83 356.20,233.00 C357.40,235.91 359.89,237.88 361.00,240.80 C362.21,243.96 362.24,247.95 362.90,251.40 C363.54,254.71 364.35,257.64 364.90,261.10 C365.52,265.01 365.70,269.68 366.30,273.70 C366.85,277.42 367.17,284.14 368.30,284.40 C369.06,284.58 370.49,282.30 371.20,280.50 C372.34,277.60 372.02,272.00 372.60,267.90 C373.16,263.94 373.87,260.16 374.60,256.30 C375.33,252.43 376.07,248.03 377.00,244.70 C377.72,242.10 378.55,240.24 379.40,237.90 C380.31,235.39 381.13,232.32 382.30,230.10 C383.29,228.23 384.31,225.69 385.70,225.30 C386.96,224.95 388.95,225.99 390.10,227.20 C391.62,228.80 392.08,232.22 393.00,235.00 C394.03,238.11 394.60,242.13 395.90,245.00 C397.00,247.43 398.86,248.78 399.90,251.30 C401.20,254.47 401.66,258.44 402.40,262.80 C403.36,268.45 403.96,275.20 404.80,282.40 C405.83,291.23 406.87,303.08 408.10,311.90 C409.11,319.11 410.10,325.28 411.40,331.50 C412.60,337.23 414.28,342.42 415.50,347.90 C416.71,353.35 417.79,358.46 418.70,364.30 C419.73,370.92 420.39,378.24 421.20,385.60 C422.07,393.50 422.88,402.01 423.70,410.20 C424.52,418.37 425.15,426.53 426.10,434.70 C427.05,442.90 428.47,451.73 429.40,459.30 C430.19,465.76 430.59,472.28 431.40,477.30 C431.99,480.95 432.75,483.75 433.40,486.70 C433.98,489.34 434.45,492.38 435.10,494.20 C435.50,495.32 435.95,496.79 436.40,496.80 C436.85,496.81 437.39,495.33 437.80,494.20 C438.47,492.38 438.84,489.34 439.40,486.70 C440.03,483.74 440.87,480.24 441.40,477.30 C441.87,474.72 442.18,472.44 442.50,470.00 C442.82,467.55 442.96,465.75 443.30,462.60 C443.90,457.05 444.77,448.20 445.80,439.60 C447.12,428.59 449.01,414.10 450.70,402.00 C452.28,390.69 453.97,380.12 455.60,369.20 C457.23,358.29 459.06,346.63 460.50,336.50 C461.75,327.72 462.63,320.47 463.80,311.90 C465.08,302.51 466.62,291.79 467.90,282.40 C469.07,273.83 470.01,264.59 471.20,257.80 C472.05,252.95 472.43,248.09 473.90,245.40 C474.79,243.77 475.93,242.27 477.20,242.10 C478.55,241.92 480.40,243.88 481.80,244.70 C483.00,245.40 484.07,246.96 485.10,246.70 C486.55,246.34 487.96,242.64 489.00,240.10 C490.23,237.10 490.35,232.69 491.60,229.70 C492.66,227.16 494.34,223.10 495.60,223.10 C496.72,223.10 497.92,226.07 498.80,228.30 C500.11,231.61 500.35,237.72 501.50,241.50 C502.41,244.49 503.57,249.25 504.70,249.30 C505.75,249.34 506.90,245.18 508.00,242.80 C509.29,240.02 510.48,236.37 511.90,233.60 C513.14,231.17 514.69,226.94 515.90,227.00 C517.08,227.06 518.28,230.85 519.10,233.60 C520.30,237.64 520.56,243.76 521.10,249.30 C521.70,255.49 521.97,262.44 522.40,269.00 C522.83,275.54 523.29,281.59 523.70,288.60 C524.17,296.70 524.65,306.69 525.00,314.80 C525.30,321.83 525.40,327.47 525.70,334.50 C526.05,342.61 526.53,352.59 527.00,360.70 C527.41,367.74 527.87,374.11 528.30,380.40 C528.70,386.17 529.11,391.61 529.50,397.00 C529.87,402.13 530.17,407.71 530.60,412.00 C530.93,415.24 531.18,418.35 531.70,420.50 C532.04,421.88 532.43,423.75 532.90,423.80 C533.31,423.84 533.79,422.52 534.30,421.50 C535.20,419.71 536.42,416.38 537.40,413.80 C538.38,411.22 539.44,408.44 540.20,406.00 C540.86,403.88 541.31,402.30 541.80,400.00 C542.44,396.98 542.87,393.39 543.50,389.40 C544.32,384.21 545.52,377.47 546.30,371.50 C547.08,365.57 547.58,359.64 548.20,353.70 C548.82,347.74 549.38,341.77 550.00,335.80 C550.62,329.83 551.30,323.87 551.90,317.90 C552.50,311.93 553.04,306.44 553.60,300.00 C554.25,292.48 554.81,282.78 555.50,275.50 C556.06,269.62 556.80,264.92 557.30,259.60 C557.80,254.25 558.07,248.47 558.50,243.50 C558.87,239.20 559.20,235.49 559.70,231.50 C560.20,227.52 560.97,223.28 561.50,219.60 C561.95,216.42 562.30,213.57 562.70,210.70 C563.07,208.01 563.33,205.53 563.80,202.90 C564.29,200.17 564.99,197.32 565.60,194.60 C566.19,191.96 566.76,189.21 567.40,186.80 C567.97,184.69 568.51,182.86 569.20,180.90 C569.91,178.89 570.69,176.82 571.60,174.90 C572.49,173.02 573.43,171.03 574.60,169.50 C575.66,168.12 576.98,166.73 578.20,166.00 C579.15,165.43 580.14,165.02 581.10,165.10 C582.11,165.18 583.05,165.94 584.10,166.60 C585.42,167.42 586.90,169.62 588.30,169.80 C589.50,169.95 590.59,168.65 591.90,168.30 C593.34,167.92 595.21,167.65 596.60,167.70 C597.72,167.74 598.69,167.76 599.60,168.30 C600.73,168.97 601.75,170.47 602.60,171.90 C603.60,173.58 604.41,175.66 605.00,177.90 C605.69,180.54 605.82,183.61 606.20,186.80 C606.63,190.48 607.00,194.72 607.40,198.70 C607.80,202.69 608.27,206.71 608.60,210.70 C608.93,214.67 609.12,218.63 609.40,222.60 C609.68,226.57 609.92,230.81 610.30,234.50 C610.64,237.71 610.82,240.78 611.50,243.50 C612.09,245.88 613.20,250.03 613.90,250.00 C614.59,249.97 615.17,246.01 615.70,243.50 C616.42,240.13 616.90,235.49 617.50,231.50 C618.10,227.52 618.66,223.45 619.30,219.60 C619.90,215.96 620.60,212.53 621.20,209.00 C621.80,205.49 622.29,201.95 622.90,198.50 C623.49,195.12 624.17,191.78 624.80,188.50 C625.41,185.32 625.79,181.72 626.60,179.10 C627.21,177.10 627.79,175.18 628.80,174.00 C629.59,173.08 630.65,172.34 631.70,172.20 C632.81,172.06 634.12,172.60 635.30,173.30 C636.80,174.19 638.00,176.28 639.70,177.60 C641.61,179.08 644.29,181.73 646.30,181.60 C648.13,181.48 649.66,179.06 651.30,177.60 C653.04,176.05 654.60,173.87 656.40,172.50 C658.02,171.26 659.83,170.87 661.50,169.60 C663.47,168.09 665.40,165.57 667.30,163.80 C669.02,162.20 670.35,160.31 672.40,159.40 C674.65,158.40 678.27,158.77 680.40,158.40 C681.84,158.15 682.47,157.66 684.00,157.60 C686.64,157.49 691.27,158.55 694.90,159.10 C698.54,159.65 702.53,160.30 705.80,160.90 C708.48,161.40 710.71,161.64 713.10,162.40 C715.58,163.19 717.96,164.63 720.40,165.60 C722.79,166.56 725.22,167.19 727.60,168.20 C730.05,169.24 732.41,170.95 734.90,171.80 C737.28,172.62 739.82,172.48 742.20,173.30 C744.69,174.15 747.02,176.06 749.50,176.90 C751.86,177.69 754.75,178.57 756.70,178.30 C758.15,178.10 759.02,177.16 760.30,176.50 C761.77,175.74 763.20,174.59 765.00,174.00 C767.14,173.30 769.99,172.65 772.40,172.90 C774.82,173.15 777.45,174.20 779.50,175.50 C781.50,176.76 783.18,178.35 784.60,180.50 C786.36,183.16 787.44,187.12 788.60,190.70 C789.83,194.53 790.86,198.66 791.70,202.80 C792.57,207.08 793.05,211.44 793.70,216.00 C794.39,220.88 795.12,226.13 795.70,231.20 C796.28,236.26 796.60,241.34 797.20,246.40 C797.80,251.47 798.57,256.31 799.30,261.60 C800.10,267.39 800.87,274.35 801.80,279.80 C802.57,284.29 803.23,288.76 804.30,292.00 C805.05,294.28 805.88,297.47 806.90,297.60 C807.79,297.72 809.04,295.68 809.90,294.00 C811.30,291.25 812.08,286.48 813.00,281.90 C814.18,276.03 815.08,268.37 816.00,261.60 C816.92,254.84 817.73,248.06 818.50,241.30 C819.27,234.56 819.92,227.84 820.60,221.10 C821.28,214.34 821.88,207.07 822.60,200.80 C823.23,195.36 823.89,190.38 824.60,185.60 C825.23,181.30 825.53,176.99 826.60,173.40 C827.51,170.36 828.45,167.35 830.20,165.30 C831.78,163.44 833.91,162.36 836.30,161.30 C839.16,160.04 842.66,159.17 846.40,158.70 C850.92,158.13 855.38,158.70 861.60,158.70 C871.49,158.70 882.20,158.63 900.00,158.70 C940.62,158.86 1033.33,159.87 1100.00,160.30 C1166.67,160.73 1250.94,161.00 1300.00,161.30 C1328.57,161.48 1358.28,160.16 1367.80,161.80 C1370.43,162.25 1370.72,163.10 1372.70,163.50 C1375.53,164.07 1381.19,163.63 1383.30,164.20 C1384.27,164.46 1384.63,164.67 1385.30,165.20 C1386.25,165.95 1387.21,167.77 1388.20,168.60 C1388.98,169.25 1389.80,170.00 1390.60,170.00 C1391.40,170.00 1392.07,168.98 1393.00,168.60 C1394.12,168.14 1395.29,167.76 1396.90,167.60 C1399.39,167.35 1403.66,167.83 1406.60,168.10 C1409.07,168.33 1411.35,168.55 1413.40,169.00 C1415.16,169.39 1416.71,169.89 1418.20,170.50 C1419.59,171.07 1420.75,171.86 1422.10,172.50 C1423.51,173.17 1425.13,174.36 1426.50,174.40 C1427.67,174.43 1428.54,173.66 1429.80,173.20 C1431.48,172.58 1433.82,171.62 1435.70,171.00 C1437.37,170.45 1438.57,170.06 1440.50,169.60 C1443.35,168.92 1447.42,168.22 1451.20,167.60 C1455.43,166.91 1460.57,166.20 1464.70,165.70 C1468.20,165.27 1470.61,164.99 1474.40,164.70 C1479.75,164.29 1486.29,163.82 1493.80,163.70 C1504.18,163.53 1518.61,163.91 1530.90,164.40 C1543.07,164.88 1554.54,166.07 1567.20,166.60 C1581.06,167.18 1597.73,167.11 1610.80,167.60 C1621.48,168.00 1630.20,168.62 1639.90,169.10 C1649.60,169.58 1658.49,170.12 1669.00,170.50 C1681.43,170.95 1697.82,171.76 1709.70,171.50 C1718.96,171.30 1726.43,170.48 1734.40,169.80 C1741.90,169.16 1748.78,168.43 1756.20,167.60 C1763.96,166.74 1771.85,165.69 1780.00,164.70 C1788.60,163.66 1797.95,162.44 1806.50,161.50 C1814.51,160.62 1822.03,159.65 1829.80,159.20 C1837.53,158.75 1842.15,158.89 1853.00,158.80 C1878.48,158.58 1961.66,159.68 1981.00,158.80 C1986.68,158.54 1992.00,157.80 1992.00,157.80" fill="none" stroke="#ff00ff" stroke-width="4.3" stroke-linejoin="round" stroke-linecap="butt"/><line x1="370.0" y1="276.0" x2="357.8" y2="300.5" stroke="#000" stroke-width="3.3"/><polygon points="341.3,333.6 349.7,294.2 367.6,303.2" fill="#000"/><line x1="807.9" y1="289.4" x2="825.8" y2="303.4" stroke="#000" stroke-width="3.3"/><polygon points="854.9,326.2 818.0,310.0 830.4,294.3" fill="#000"/><line x1="367.3" y1="521.5" x2="347.2" y2="563.2" stroke="#000" stroke-width="3.3"/><polygon points="331.1,596.5 339.0,557.0 357.1,565.7" fill="#000"/><line x1="801.6" y1="527.9" x2="841.0" y2="554.0" stroke="#000" stroke-width="3.3"/><polygon points="871.9,574.4 833.9,561.2 844.9,544.5" fill="#000"/><line x1="367.2" y1="746.3" x2="353.9" y2="776.9" stroke="#000" stroke-width="3.3"/><polygon points="339.1,810.8 345.5,771.1 363.8,779.0" fill="#000"/><line x1="808.1" y1="753.1" x2="847.8" y2="779.1" stroke="#000" stroke-width="3.3"/><polygon points="878.8,799.3 840.7,786.3 851.6,769.6" fill="#000"/><line x1="367.3" y1="981.5" x2="343.6" y2="1033.2" stroke="#000" stroke-width="3.3"/><polygon points="328.2,1066.8 335.4,1027.2 353.5,1035.5" fill="#000"/><line x1="804.9" y1="992.0" x2="838.8" y2="1016.6" stroke="#000" stroke-width="3.3"/><polygon points="868.7,1038.3 831.3,1023.5 843.0,1007.3" fill="#000"/><line x1="441.1" y1="1214.8" x2="456.6" y2="1244.7" stroke="#000" stroke-width="3.3"/><polygon points="473.6,1277.6 446.8,1247.6 464.6,1238.4" fill="#000"/><line x1="540.3" y1="1207.8" x2="568.7" y2="1225.7" stroke="#000" stroke-width="3.3"/><polygon points="600.0,1245.5 561.7,1233.1 572.4,1216.2" fill="#000"/><line x1="806.2" y1="1201.0" x2="832.3" y2="1220.5" stroke="#000" stroke-width="3.3"/><polygon points="861.9,1242.7 824.7,1227.3 836.7,1211.3" fill="#000"/><g fill="#000"><rect x="235" y="19" width="6" height="1424"/><rect x="210" y="1436" width="1784" height="7"/><rect x="210" y="1179" width="26" height="6"/><rect x="210" y="921" width="26" height="6"/><rect x="210" y="663" width="26" height="6"/><rect x="210" y="406" width="26" height="6"/><rect x="210" y="148" width="26" height="6"/><rect x="224" y="1308" width="12" height="6"/><rect x="224" y="1050" width="12" height="6"/><rect x="224" y="792" width="12" height="6"/><rect x="224" y="535" width="12" height="6"/><rect x="224" y="277" width="12" height="6"/><rect x="224" y="19" width="12" height="6"/><rect x="418" y="1442" width="6" height="26"/><rect x="680" y="1442" width="6" height="26"/><rect x="942" y="1442" width="6" height="26"/><rect x="1203" y="1442" width="6" height="26"/><rect x="1465" y="1442" width="6" height="26"/><rect x="1726" y="1442" width="6" height="26"/><rect x="1988" y="1442" width="6" height="26"/><rect x="288" y="1442" width="6" height="12"/><rect x="549" y="1442" width="6" height="12"/><rect x="811" y="1442" width="6" height="12"/><rect x="1072" y="1442" width="6" height="12"/><rect x="1334" y="1442" width="6" height="12"/><rect x="1596" y="1442" width="6" height="12"/><rect x="1857" y="1442" width="6" height="12"/></g><g font-family="Liberation Sans, Arial, sans-serif" font-size="54.5" fill="#000"><text transform="matrix(0.9987 0 0 1.0052 191.30 1454.72)" text-anchor="end">0</text><text transform="matrix(0.9987 0 0 1.0052 191.30 1197.02)" text-anchor="end">100</text><text transform="matrix(0.9987 0 0 1.0052 191.30 939.32)" text-anchor="end">200</text><text transform="matrix(0.9987 0 0 1.0052 191.30 681.62)" text-anchor="end">300</text><text transform="matrix(0.9987 0 0 1.0052 191.30 423.92)" text-anchor="end">400</text><text transform="matrix(0.9987 0 0 1.0052 191.30 166.22)" text-anchor="end">500</text><text transform="matrix(1.0107 0 0 1.0052 421.50 1529.22)" text-anchor="middle">1000</text><text transform="matrix(1.0107 0 0 1.0052 683.09 1529.22)" text-anchor="middle">1500</text><text transform="matrix(1.0107 0 0 1.0052 944.67 1529.22)" text-anchor="middle">2000</text><text transform="matrix(1.0107 0 0 1.0052 1206.26 1529.22)" text-anchor="middle">2500</text><text transform="matrix(1.0107 0 0 1.0052 1467.84 1529.22)" text-anchor="middle">3000</text><text transform="matrix(1.0107 0 0 1.0052 1729.42 1529.22)" text-anchor="middle">3500</text><text transform="matrix(1.0107 0 0 1.0052 1991.01 1529.22)" text-anchor="middle">4000</text></g><g font-family="Liberation Sans, Arial, sans-serif" fill="#000"><text transform="matrix(0.9831 0 0 1.0506 1545.57 138.79)" font-size="49">SGO-4</text><text transform="matrix(0.9653 0 0 1.0375 1539.14 388.62)" font-size="55">SGO-3</text><text transform="matrix(0.9636 0 0 1.0180 1531.63 651.85)" font-size="50">SGO-2</text><text transform="matrix(0.9541 0 0 1.0431 1531.49 892.78)" font-size="51">SGO-1</text><text transform="matrix(0.9917 0 0 1.0327 1560.74 1142.18)" font-size="48" font-weight="bold">CA</text><text transform="matrix(1.0087 0 0 1.0498 286.98 379.20)" font-size="43.5">896</text><text transform="matrix(0.9930 0 0 1.0280 868.69 353.00)" font-size="47">1739</text><text transform="matrix(1.0200 0 0 1.0640 276.98 634.34)" font-size="41">896</text><text transform="matrix(0.9930 0 0 1.0280 872.65 594.00)" font-size="47">1739</text><text transform="matrix(1.0200 0 0 1.0640 277.00 852.32)" font-size="41">896</text><text transform="matrix(0.9930 0 0 1.0280 858.64 850.00)" font-size="47">1739</text><text transform="matrix(1.0200 0 0 1.0640 282.84 1108.29)" font-size="41">896</text><text transform="matrix(0.9930 0 0 1.0280 875.62 1071.00)" font-size="47">1739</text><text transform="matrix(0.9945 0 0 1.0331 416.92 1328.99)" font-size="44">1037</text><text transform="matrix(0.9393 0 0 1.0527 610.04 1274.02)" font-size="45.5">1224</text><text transform="matrix(0.9752 0 0 1.0343 851.90 1282.01)" font-size="47.5">1745</text><text transform="translate(70.81 1010.54) rotate(-90) scale(1.0144 1.0182)" font-size="68">Transmittance (%)</text><text transform="matrix(0.9959 0 0 1.0275 812.24 1648.69)" font-size="69">Wavenumber (cm<tspan font-size="47" dy="-31">-1</tspan><tspan dy="31">)</tspan></text></g></svg></body></html>
